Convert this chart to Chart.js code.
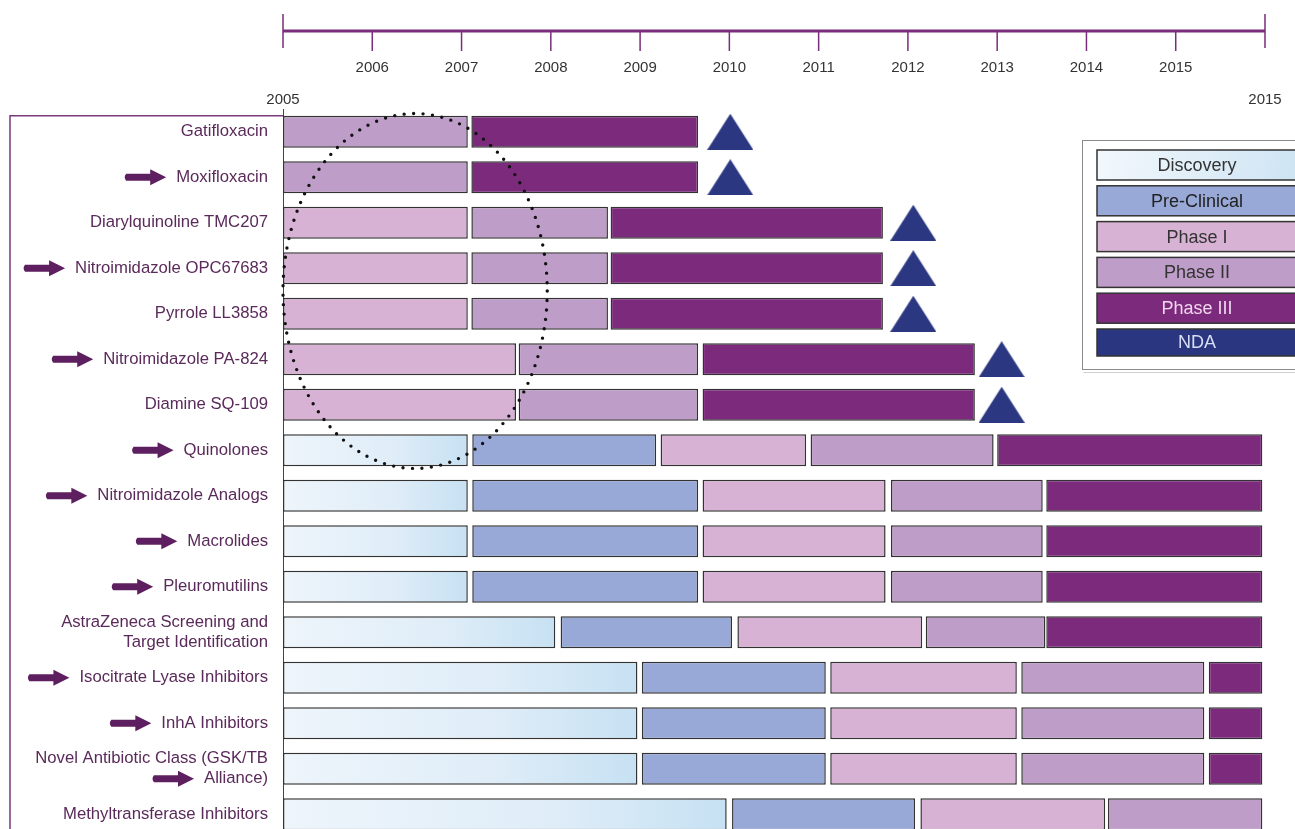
<!DOCTYPE html>
<html>
<head>
<meta charset="utf-8">
<script src="https://cdn.jsdelivr.net/npm/chart.js"></script>
<style>
  html, body { margin: 0; padding: 0; background: #fff; overflow: hidden; }
  #pipeline { display: block; }
</style>
</head>
<body>
<canvas id="pipeline" width="1295" height="862"></canvas>
<script>
// filas del gráfico (de arriba hacia abajo)
var filas = [
    "Gatifloxacin",
    "Moxifloxacin",
    "Diarylquinoline TMC207",
    "Nitroimidazole OPC67683",
    "Pyrrole LL3858",
    "Nitroimidazole PA-824",
    "Diamine SQ-109",
    "Quinolones",
    "Nitroimidazole Analogs",
    "Macrolides",
    "Pleuromutilins",
    ["AstraZeneca Screening and", "Target Identification"],
    "Isocitrate Lyase Inhibitors",
    "InhA Inhibitors",
    ["Novel Antibiotic Class (GSK/TB", "Alliance)"],
    "Methyltransferase Inhibitors"
];

// filas que llevan flecha delante del nombre
var filasConFlecha = [1, 3, 5, 7, 8, 9, 10, 12, 13, 14];

// años del eje de tiempo
var anios = [2006, 2007, 2008, 2009, 2010, 2011, 2012, 2013, 2014, 2015];
var anioInicio = 2005;
var anioFin = 2016;

// fases: [inicio, fin] en años, una entrada por fila
var discovery = [null, null, null, null, null, null, null,
    [2005, 2007.07], [2005, 2007.07], [2005, 2007.07], [2005, 2007.07],
    [2005, 2008.05], [2005, 2008.97], [2005, 2008.97], [2005, 2008.97], [2005, 2009.97]];

var preClinical = [null, null, null, null, null, null, null,
    [2007.12, 2009.18], [2007.12, 2009.65], [2007.12, 2009.65], [2007.12, 2009.65],
    [2008.11, 2010.03], [2009.02, 2011.08], [2009.02, 2011.08], [2009.02, 2011.08], [2010.03, 2012.08]];

var fase1 = [null, null,
    [2005, 2007.07], [2005, 2007.07], [2005, 2007.07],
    [2005, 2007.61], [2005, 2007.61],
    [2009.23, 2010.86], [2009.70, 2011.75], [2009.70, 2011.75], [2009.70, 2011.75],
    [2010.09, 2012.16], [2011.13, 2013.22], [2011.13, 2013.22], [2011.13, 2013.22], [2012.14, 2014.21]];

var fase2 = [[2005, 2007.07], [2005, 2007.07],
    [2007.11, 2008.64], [2007.11, 2008.64], [2007.11, 2008.64],
    [2007.64, 2009.65], [2007.64, 2009.65],
    [2010.91, 2012.96], [2011.81, 2013.51], [2011.81, 2013.51], [2011.81, 2013.51],
    [2012.20, 2013.54], [2013.27, 2015.32], [2013.27, 2015.32], [2013.27, 2015.32], [2014.24, 2015.97]];

var fase3 = [[2007.11, 2009.65], [2007.11, 2009.65],
    [2008.67, 2011.72], [2008.67, 2011.72], [2008.67, 2011.72],
    [2009.70, 2012.75], [2009.70, 2012.75],
    [2013.00, 2015.97], [2013.55, 2015.97], [2013.55, 2015.97], [2013.55, 2015.97],
    [2013.55, 2015.97], [2015.37, 2015.97], [2015.37, 2015.97], [2015.37, 2015.97], null];

// NDA esperado (triángulos)
var nda = [2010.01, 2010.01, 2012.06, 2012.06, 2012.06, 2013.05, 2013.05,
    null, null, null, null, null, null, null, null, null];

var leyenda = ["Discovery", "Pre-Clinical", "Phase I", "Phase II", "Phase III", "NDA"];
var coloresLeyenda = ["#e4f0f9", "#98a9d8", "#d7b2d5", "#bf9dc9", "#7c2a7c", "#2a3680"];
var coloresTextoLeyenda = ["#333", "#222", "#333", "#333", "#f1d6ef", "#d8def3"];

// triángulo para el NDA
var triangulo = document.createElement("canvas");
triangulo.width = 46;
triangulo.height = 36;
(function () {
    var t = triangulo.getContext("2d");
    t.fillStyle = "#2b3781";
    t.beginPath();
    t.moveTo(23, 0);
    t.lineTo(46, 36);
    t.lineTo(0, 36);
    t.closePath();
    t.fill();
})();

function degradadoDiscovery(c) {
    var chart = c.chart;
    var v = c.raw;
    if (!chart.chartArea || !v) return "#dcecf7";
    var x0 = chart.scales.x.getPixelForValue(v[0]);
    var x1 = chart.scales.x.getPixelForValue(v[1]);
    var g = chart.ctx.createLinearGradient(x0, 0, x1, 0);
    g.addColorStop(0, "#eef5fb");
    g.addColorStop(0.6, "#dfedf8");
    g.addColorStop(1, "#c6e1f3");
    return g;
}

var tamanoEtiqueta = 16.7;
var fuenteEtiquetas = tamanoEtiqueta + "px 'Liberation Sans', Arial, sans-serif";
var separacionEtiqueta = 15;

var lineaTiempo = {
    id: "lineaTiempo",
    afterDraw: function (chart) {
        var ctx = chart.ctx;
        var x = chart.scales.x;
        var y = chart.scales.y;
        var area = chart.chartArea;
        var xa = x.getPixelForValue(anioInicio);
        var xb = x.getPixelForValue(anioFin);

        ctx.save();
        // línea superior
        ctx.strokeStyle = "#7a2d7a";
        ctx.lineWidth = 3;
        ctx.beginPath();
        ctx.moveTo(xa, 31);
        ctx.lineTo(xb, 31);
        ctx.stroke();
        ctx.lineWidth = 1.5;
        ctx.beginPath();
        ctx.moveTo(xa, 14); ctx.lineTo(xa, 48);
        ctx.moveTo(xb, 14); ctx.lineTo(xb, 48);
        for (var i = 0; i < anios.length; i++) {
            var px = x.getPixelForValue(anios[i]);
            ctx.moveTo(px, 31);
            ctx.lineTo(px, 51);
        }
        ctx.stroke();

        ctx.fillStyle = "#333";
        ctx.font = "15px 'Liberation Sans', Arial, sans-serif";
        ctx.textAlign = "center";
        ctx.textBaseline = "middle";
        for (var j = 0; j < anios.length; j++) {
            ctx.fillText(String(anios[j]), x.getPixelForValue(anios[j]), 68);
        }
        ctx.fillText(String(anioInicio), xa, 100);
        ctx.fillText("2015", xb, 100);

        // marco izquierdo
        var fila0 = y.getPixelForValue(0) - 16;
        ctx.strokeStyle = "#7a3a7a";
        ctx.lineWidth = 1.5;
        ctx.beginPath();
        ctx.moveTo(xa, fila0);
        ctx.lineTo(10, fila0);
        ctx.lineTo(10, chart.height);
        ctx.stroke();

        // flechas
        ctx.font = fuenteEtiquetas;
        ctx.fillStyle = "#5e1f60";
        for (var k = 0; k < filasConFlecha.length; k++) {
            var f = filasConFlecha[k];
            var nombre = filas[f];
            var cy = y.getPixelForValue(f);
            var texto = nombre;
            if (Array.isArray(nombre)) {
                texto = nombre[nombre.length - 1];
                cy += tamanoEtiqueta * 1.2 / 2;
            }
            var punta = area.left - separacionEtiqueta - ctx.measureText(texto).width - 10;
            ctx.beginPath();
            ctx.moveTo(punta, cy);
            ctx.lineTo(punta - 16, cy - 8);
            ctx.lineTo(punta - 16, cy - 3.5);
            ctx.lineTo(punta - 40, cy - 3.5);
            ctx.quadraticCurveTo(punta - 43, cy, punta - 40, cy + 3.5);
            ctx.lineTo(punta - 16, cy + 3.5);
            ctx.lineTo(punta - 16, cy + 8);
            ctx.closePath();
            ctx.fill();
        }

        // elipse punteada
        var cx = x.getPixelForValue(2006.48);
        var cyE = y.getPixelForValue(3.5);
        var rx = x.getPixelForValue(2006.48) - x.getPixelForValue(2005);
        var ry = y.getPixelForValue(3.5) - y.getPixelForValue(-0.4);
        ctx.strokeStyle = "#111";
        ctx.lineWidth = 3.4;
        ctx.lineCap = "round";
        ctx.setLineDash([0, 9.5]);
        ctx.beginPath();
        ctx.ellipse(cx, cyE, rx, ry, 0, 0, Math.PI * 2);
        ctx.stroke();
        ctx.setLineDash([]);

        // leyenda
        ctx.strokeStyle = "#8a8a8a";
        ctx.lineWidth = 1;
        ctx.strokeRect(1082.5, 140.5, 240, 229);
        ctx.strokeStyle = "#d0d0d0";
        ctx.beginPath();
        ctx.moveTo(1084, 372.5);
        ctx.lineTo(1295, 372.5);
        ctx.stroke();
        ctx.font = "18px 'Liberation Sans', Arial, sans-serif";
        for (var m = 0; m < leyenda.length; m++) {
            var top = 150 + m * 35.8;
            var alto = m === leyenda.length - 1 ? 27 : 30;
            if (m === 0) {
                var g = ctx.createLinearGradient(1097, top, 1300, top + alto);
                g.addColorStop(0, "#f3f8fc");
                g.addColorStop(1, "#cde4f4");
                ctx.fillStyle = g;
            } else {
                ctx.fillStyle = coloresLeyenda[m];
            }
            ctx.fillRect(1097, top, 210, alto);
            ctx.strokeStyle = "#333";
            ctx.lineWidth = 1.5;
            ctx.strokeRect(1097, top, 210, alto);
            ctx.fillStyle = coloresTextoLeyenda[m];
            ctx.fillText(leyenda[m], 1197, top + alto / 2 + 1);
        }
        ctx.restore();
    }
};

function barra(nombre, datos, color) {
    return {
        type: "bar",
        label: nombre,
        data: datos,
        backgroundColor: color,
        borderColor: "#333",
        borderWidth: 1.5,
        borderSkipped: false,
        barPercentage: 0.7,
        categoryPercentage: 1,
        grouped: false
    };
}

var ctx = document.getElementById("pipeline");

var grafico = new Chart(ctx, {
    type: "bar",
    data: {
        labels: filas,
        datasets: [
            barra("Discovery", discovery, degradadoDiscovery),
            barra("Pre-Clinical", preClinical, coloresLeyenda[1]),
            barra("Phase I", fase1, coloresLeyenda[2]),
            barra("Phase II", fase2, coloresLeyenda[3]),
            barra("Phase III", fase3, coloresLeyenda[4]),
            {
                type: "line",
                label: "NDA",
                data: nda,
                showLine: false,
                pointStyle: triangulo,
                pointRadius: 20,
                clip: false
            }
        ]
    },
    options: {
        indexAxis: "y",
        responsive: false,
        animation: false,
        devicePixelRatio: 1,
        layout: { autoPadding: false, padding: { top: 109, right: 30, bottom: 3, left: 0 } },
        plugins: {
            legend: { display: false },
            tooltip: { enabled: false }
        },
        scales: {
            x: {
                type: "linear",
                min: anioInicio,
                max: anioFin,
                display: false
            },
            y: {
                type: "category",
                offset: true,
                grid: { display: false, drawTicks: false },
                border: { display: true, color: "#444", width: 1 },
                ticks: {
                    color: "#5a2a5a",
                    padding: separacionEtiqueta,
                    font: { family: "'Liberation Sans', Arial, sans-serif", size: tamanoEtiqueta, lineHeight: 1.2 }
                },
                afterFit: function (escala) {
                    escala.width = 283;
                }
            }
        }
    },
    plugins: [lineaTiempo]
});
</script>
</body>
</html>
